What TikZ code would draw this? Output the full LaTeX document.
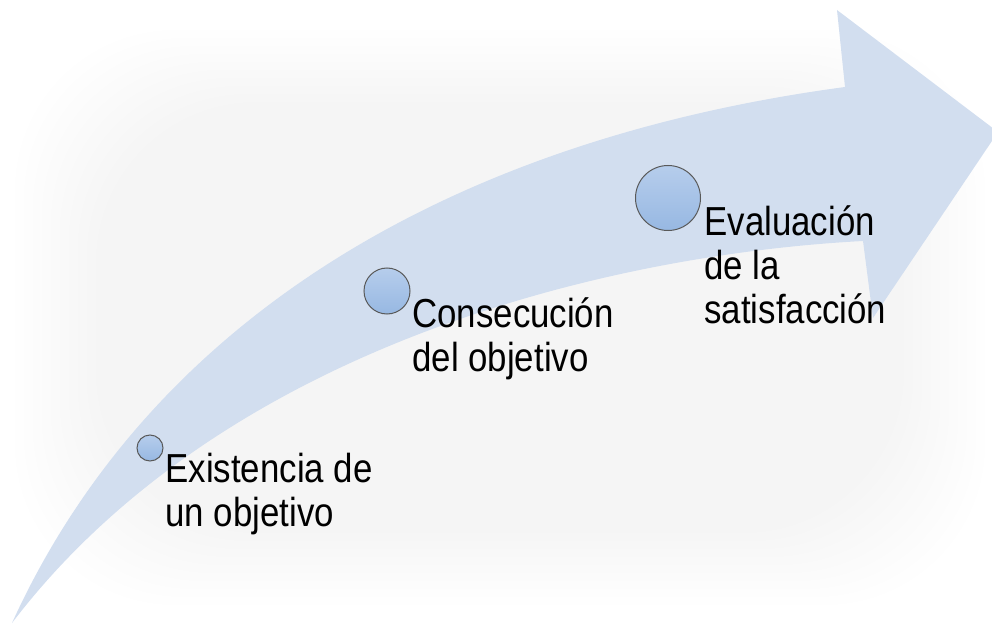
\documentclass[tikz,border=0pt]{standalone}
\usepackage{fontspec}
\setmainfont{Liberation Sans}[FakeStretch=0.86]
\definecolor{arrowfill}{HTML}{D2DEEF}
\definecolor{bluetop}{HTML}{B6CDEC}
\definecolor{bluebot}{HTML}{97B8E2}
\tikzset{stage/.style={circle,draw=black!65,line width=0.5pt,top color=bluetop,bottom color=bluebot,inner sep=0pt},
	stagetext/.style={anchor=north west,align=left,inner sep=0pt,font=\fontsize{20.25}{22}\selectfont}}

\begin{document}
\begin{tikzpicture}[x=0.5pt,y=-0.5pt]
	\useasboundingbox (0,0) rectangle (992,626);
	\begin{scope}
		\clip (0,0) rectangle (992,626);
		% soft glow behind the arrow
		\foreach \i in {0,...,9}
			\fill[black,fill opacity=0.0045,rounded corners=80pt] (15+\i*9,30+\i*8) rectangle (985-\i*9,605-\i*8);
		% the curved arrow
		\fill[arrowfill] (12,623) .. controls (150,320) and (450,140) .. (845,87)
			-- (837,10) -- (998,132) -- (873,318) -- (863,241)
			.. controls (600,255) and (220,350) .. (12,623) -- cycle;
	\end{scope}

	\node[stage,minimum size=13pt] (c1) at (150,448) {};
	\node[stage,minimum size=23pt] (c2) at (387,291) {};
	\node[stage,minimum size=32.5pt] (c3) at (668,198) {};

	\node[stagetext] (t1) at (165,453) {Existencia de\\un objetivo};
	\node[stagetext] (t2) at (412,297) {Consecución\\del objetivo};
	\node[stagetext] (t3) at (704,205) {Evaluación\\de la\\satisfacción};
\end{tikzpicture}
\end{document}
